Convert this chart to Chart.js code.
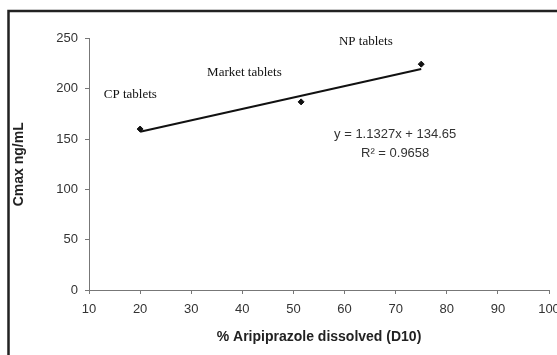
<!DOCTYPE html>
<html>
<head>
<meta charset="utf-8">
<script src="https://cdn.jsdelivr.net/npm/chart.js@4"></script>
<style>
  html, body { margin: 0; padding: 0; background: #fff; overflow: hidden; width: 557px; height: 355px; }
  canvas { display: block; }
</style>
</head>
<body>
<canvas id="cmaxChart" width="580" height="355"></canvas>
<script>
// formulations: % dissolved at 10 min vs Cmax
const formulations = ['CP tablets', 'Market tablets', 'NP tablets'];
const dissolvedD10 = [20, 51.5, 75];
const cmaxValues = [160, 187, 224.5];

// linear trend line from the figure
const trendSlope = 1.1327;
const trendIntercept = 134.65;
const trendX = [20, 75];
const trendY = trendX.map(x => trendSlope * x + trendIntercept);

const xTicks = [10, 20, 30, 40, 50, 60, 70, 80, 90, 100];
const yTicks = [0, 50, 100, 150, 200, 250];

// where each formulation name sits (data coords)
const labelX = [12.9, 33.1, 58.9];
const labelY = [194, 216.5, 246.5];

const eqnLines = ['y = 1.1327x + 134.65', 'R² = 0.9658'];
const eqnX = 69.9;
const eqnY = [155, 136.2];

const AXIS_COLOR = '#777';
const TEXT_COLOR = '#333';

const frameAndText = {
    id: 'frameAndText',
    beforeDraw(chart) {
        const ctx = chart.ctx;
        ctx.save();
        ctx.fillStyle = '#fff';
        ctx.fillRect(0, 0, chart.width, chart.height);
        ctx.strokeStyle = '#222';
        ctx.lineWidth = 2.5;
        ctx.strokeRect(8.5, 11, chart.width + 20, chart.height + 20);
        ctx.restore();
    },
    afterDatasetsDraw(chart) {
        const ctx = chart.ctx;
        const xs = chart.scales.x;
        const ys = chart.scales.y;
        ctx.save();
        ctx.fillStyle = '#111';
        ctx.font = '13px "Liberation Serif", "Times New Roman", serif';
        ctx.textAlign = 'left';
        ctx.textBaseline = 'middle';
        formulations.forEach((name, i) => {
            ctx.fillText(name, xs.getPixelForValue(labelX[i]), ys.getPixelForValue(labelY[i]));
        });
        ctx.fillStyle = TEXT_COLOR;
        ctx.font = '13px "Liberation Sans", Arial, sans-serif';
        ctx.textAlign = 'center';
        eqnLines.forEach((line, i) => {
            ctx.fillText(line, xs.getPixelForValue(eqnX), ys.getPixelForValue(eqnY[i]));
        });
        ctx.restore();
    }
};

new Chart(document.getElementById('cmaxChart'), {
    type: 'scatter',
    data: {
        datasets: [
            {
                label: 'Linear',
                data: trendX.map((x, i) => ({ x: x, y: trendY[i] })),
                showLine: true,
                borderColor: '#111',
                borderWidth: 2,
                pointRadius: 0,
                order: 2
            },
            {
                label: 'Cmax',
                data: dissolvedD10.map((x, i) => ({ x: x, y: cmaxValues[i] })),
                pointStyle: 'rectRot',
                pointRadius: 3,
                backgroundColor: '#111',
                borderColor: '#111',
                borderWidth: 1,
                order: 1
            }
        ]
    },
    options: {
        responsive: false,
        animation: false,
        layout: { padding: { left: 0, top: 38.5, right: 31, bottom: 0 } },
        plugins: {
            legend: { display: false },
            tooltip: { enabled: false }
        },
        scales: {
            x: {
                type: 'linear',
                min: 10,
                max: 100,
                afterBuildTicks: (scale) => { scale.ticks = xTicks.map(v => ({ value: v })); },
                afterFit: (scale) => { scale.height = 65; },
                grid: { drawOnChartArea: false, drawTicks: true, tickLength: 4, color: AXIS_COLOR },
                border: { color: AXIS_COLOR, width: 1 },
                ticks: {
                    padding: 8,
                    color: TEXT_COLOR,
                    font: { family: '"Liberation Sans", Arial, sans-serif', size: 13 }
                },
                title: {
                    display: true,
                    text: '% Aripiprazole dissolved (D10)',
                    color: '#222',
                    padding: { top: 0, bottom: 9.6 },
                    font: { family: '"Liberation Sans", Arial, sans-serif', size: 14, weight: 'bold' }
                }
            },
            y: {
                type: 'linear',
                min: 0,
                max: 250,
                afterBuildTicks: (scale) => { scale.ticks = yTicks.map(v => ({ value: v })); },
                afterFit: (scale) => { scale.width = 89; },
                grid: { drawOnChartArea: false, drawTicks: true, tickLength: 4, color: AXIS_COLOR },
                border: { color: AXIS_COLOR, width: 1 },
                ticks: {
                    padding: 7,
                    color: TEXT_COLOR,
                    font: { family: '"Liberation Sans", Arial, sans-serif', size: 13 }
                },
                title: {
                    display: true,
                    text: 'Cmax ng/mL',
                    color: '#222',
                    padding: { top: 10.6, bottom: 0 },
                    font: { family: '"Liberation Sans", Arial, sans-serif', size: 14, weight: 'bold' }
                }
            }
        }
    },
    plugins: [frameAndText]
});
</script>
</body>
</html>
